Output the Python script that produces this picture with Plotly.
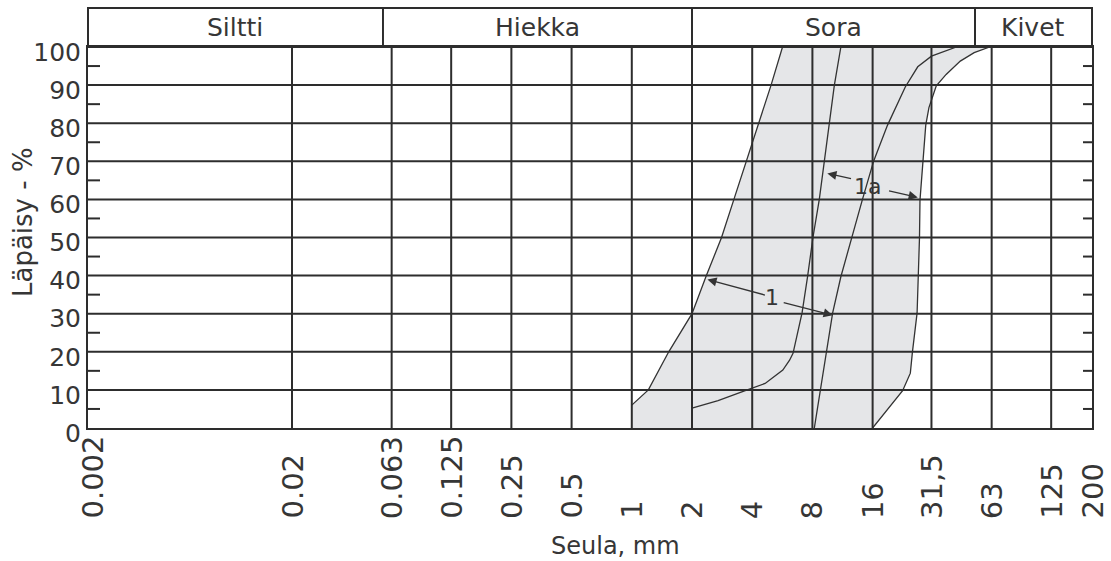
import math
import plotly.graph_objects as go

# ---------------- data ----------------
SIEVE_MM = [0.002, 0.02, 0.063, 0.125, 0.25, 0.5, 1, 2, 4, 8, 16, 31.5, 63, 125, 200]
SIEVE_LABELS = ["0.002", "0.02", "0.063", "0.125", "0.25", "0.5", "1", "2", "4",
                "8", "16", "31,5", "63", "125", "200"]
PASS_TICKS = [0, 10, 20, 30, 40, 50, 60, 70, 80, 90, 100]
PASS_MINOR = [5, 15, 25, 35, 45, 55, 65, 75, 85, 95]

CLASS_NAMES = ["Siltti", "Hiekka", "Sora", "Kivet"]
CLASS_EDGES = [0.057, 2, 52]          # inner boundaries between the classes, mm

# envelope curve 1, fine side (left)
A_MM = [1.0, 1.21, 1.53, 2.0, 2.36, 2.81, 3.24, 3.74, 4.31, 4.97, 5.67]
A_PCT = [6, 10, 20, 30, 40, 50, 60, 70, 80, 90, 100]
# envelope curve 1a, fine side
B_MM = [2.0, 2.70, 3.69, 4.64, 5.69, 6.15, 6.40, 6.66, 7.10, 7.56, 8.05, 8.66, 9.18, 9.73, 10.3, 11.1]
B_PCT = [5.2, 7.2, 9.8, 11.7, 15.2, 17.8, 19.6, 24, 30.2, 39.6, 50, 60, 70, 80, 90, 100]
# envelope curve 1, coarse side
C_MM = [8.18, 8.74, 9.4, 10.1, 11.1, 12.55, 14.2, 16.2, 19.0, 23.3, 26.9, 31.5, 37.4, 42.0]
C_PCT = [0, 9.8, 19.9, 30.2, 39.7, 50, 59.8, 70.1, 79.5, 89.5, 94.8, 97.6, 99.1, 100]
# envelope curve 1a, coarse side (right)
D_MM = [16.0, 18.9, 22.6, 24.7, 25.3, 26.7, 27.1, 27.45, 27.6, 28.6, 29.5, 30.6, 33.3, 37.3, 43.9, 51.5, 61.6]
D_PCT = [0, 4.7, 9.8, 14.4, 19.9, 30.2, 39.7, 50, 59.8, 70.1, 79.5, 84.1, 89.8, 92.8, 96.3, 98.5, 100]

# ---------------- styling ----------------
INK = "#2d2d2d"
TXT = "#363636"
FILL = "#e5e6e8"
FONT = "DejaVu Sans"

LOGMIN = math.log10(0.002) - 0.02
LOGMAX = math.log10(200)
PLOT_W = 1004
PLOT_H = 381


def xpaper(v):
    return (math.log10(v) - LOGMIN) / (LOGMAX - LOGMIN)


fig = go.Figure()

# grey band between the outermost curves
fig.add_trace(go.Scatter(
    x=[A_MM[0]] + A_MM + D_MM[::-1],
    y=[0] + A_PCT + D_PCT[::-1],
    mode="lines", fill="toself", fillcolor=FILL,
    line=dict(width=0), hoverinfo="skip", showlegend=False))

for xs, ys in [(A_MM, A_PCT), (B_MM, B_PCT), (C_MM, C_PCT), (D_MM, D_PCT)]:
    fig.add_trace(go.Scatter(x=xs, y=ys, mode="lines",
                             line=dict(color="#333333", width=1.3),
                             showlegend=False, hoverinfo="skip"))

shapes = []
# grid lines above the grey fill
for v in SIEVE_MM[1:-1]:
    shapes.append(dict(type="line", xref="x", yref="y", x0=v, x1=v, y0=0, y1=100,
                       line=dict(color=INK, width=2), layer="above"))
for p in PASS_TICKS[1:-1]:
    shapes.append(dict(type="line", xref="paper", yref="y", x0=0, x1=1, y0=p, y1=p,
                       line=dict(color=INK, width=2), layer="above"))
# minor ticks inside the frame
for p in PASS_MINOR:
    shapes.append(dict(type="line", xref="paper", yref="y", x0=0, x1=12 / PLOT_W, y0=p, y1=p,
                       line=dict(color=INK, width=2), layer="above"))
    shapes.append(dict(type="line", xref="paper", yref="y", x0=1 - 9 / PLOT_W, x1=1, y0=p, y1=p,
                       line=dict(color=INK, width=2), layer="above"))
# soil class header
HB = 1 + 39 / PLOT_H
shapes.append(dict(type="rect", xref="paper", yref="paper", x0=0, x1=1, y0=1, y1=HB,
                   line=dict(color=INK, width=2), layer="above"))
for e in CLASS_EDGES:
    shapes.append(dict(type="line", xref="paper", yref="paper", x0=xpaper(e), x1=xpaper(e),
                       y0=1, y1=HB, line=dict(color=INK, width=2), layer="above"))

annotations = []
bounds = [0.0] + [xpaper(e) for e in CLASS_EDGES] + [1.0]
for i, name in enumerate(CLASS_NAMES):
    annotations.append(dict(xref="paper", yref="paper", x=(bounds[i] + bounds[i + 1]) / 2,
                            y=1 + 19.5 / PLOT_H, text=name, showarrow=False,
                            xanchor="center", yanchor="middle",
                            font=dict(family=FONT, size=25, color=TXT)))

# x tick labels (bottom-aligned, rotated)
for v, lab in zip(SIEVE_MM, SIEVE_LABELS):
    annotations.append(dict(xref="x", yref="paper", x=math.log10(v), y=-93 / PLOT_H,
                            text=lab, textangle=-90, showarrow=False,
                            xanchor="center", yanchor="bottom",
                            font=dict(family=FONT, size=29, color=TXT)))

# axis titles
annotations.append(dict(xref="paper", yref="paper", x=(615 - 88) / PLOT_W, y=-118 / PLOT_H,
                        text="Seula, mm", showarrow=False, xanchor="center", yanchor="middle",
                        font=dict(family=FONT, size=24, color=TXT)))
annotations.append(dict(xref="paper", yref="paper", x=(23 - 88) / PLOT_W, y=(428 - 222) / PLOT_H,
                        text="Läpäisy - %", textangle=-90, showarrow=False,
                        xanchor="center", yanchor="middle",
                        font=dict(family=FONT, size=26, color=TXT)))

# envelope labels with arrows
LABELS = [("1", 5.0, 34.3, [((2.39, 39.0), (4.71, 34.8)), ((10.1, 29.6), (5.65, 33.0))]),
          ("1a", 15.1, 63.5, [((9.5, 66.8), (12.7, 65.4)), ((26.9, 60.5), (19.0, 62.3))])]
for text, lx, ly, arrows in LABELS:
    annotations.append(dict(xref="x", yref="y", x=math.log10(lx), y=ly, text=text,
                            showarrow=False, font=dict(family=FONT, size=22, color=TXT)))
    for (hx, hy), (tx, ty) in arrows:
        annotations.append(dict(xref="x", yref="y", axref="x", ayref="y",
                                x=math.log10(hx), y=hy, ax=math.log10(tx), ay=ty, text="",
                                showarrow=True, arrowhead=2, arrowsize=1.4, arrowwidth=1.3,
                                arrowcolor="#333333", standoff=0, startstandoff=0))

fig.update_layout(
    width=1111, height=561,
    margin=dict(l=88, r=19, t=47, b=133),
    paper_bgcolor="white", plot_bgcolor="white",
    shapes=shapes, annotations=annotations,
    xaxis=dict(type="log", range=[LOGMIN, LOGMAX], tickvals=SIEVE_MM,
               showticklabels=False, ticks="", showgrid=False, zeroline=False,
               showline=True, mirror=True, linecolor=INK, linewidth=2),
    yaxis=dict(range=[0, 100], tickvals=PASS_TICKS, ticktext=[str(t) for t in PASS_TICKS],
               ticks="", showgrid=False, zeroline=False, ticklabelshift=5,
               showline=True, mirror=True, linecolor=INK, linewidth=2,
               tickfont=dict(family=FONT, size=25, color=TXT)),
)

fig.write_html("out.html", config={"displayModeBar": False},
               post_script="document.body.style.margin='0';document.body.style.overflow='hidden';")
